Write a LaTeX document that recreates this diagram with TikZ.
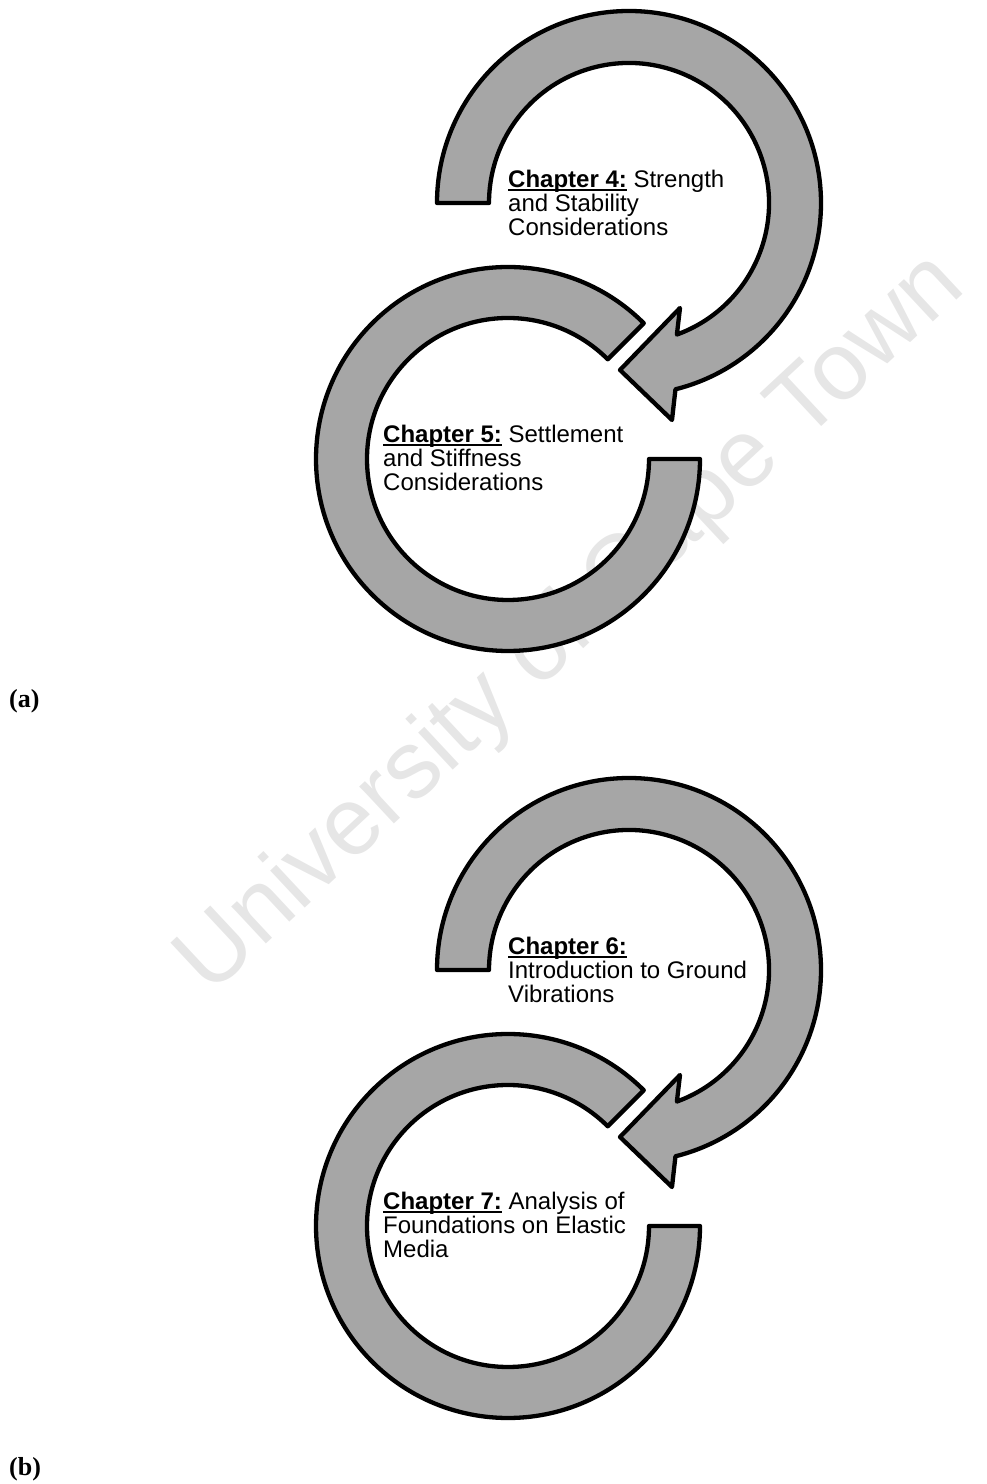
\documentclass[tikz,border=0pt]{standalone}
\usepackage{fontspec}
\setmainfont{Liberation Serif}
\newfontfamily\arialf{Liberation Sans}
\definecolor{ringgray}{HTML}{A6A6A6}
\definecolor{wmgray}{HTML}{E6E6E6}
\newsavebox\chbox
\newcommand{\chul}[1]{\sbox\chbox{\bfseries #1}\rlap{\rule[-2.6pt]{\wd\chbox}{1.9pt}}\usebox\chbox}
\tikzset{
  ring/.style={fill=ringgray, draw=black, line width=4.3pt, line join=round},
  chtext/.style={anchor=base west, inner sep=0pt, font=\arialf\fontsize{24}{24}\selectfont},
  panel/.style={anchor=base west, inner sep=0pt, font=\bfseries\fontsize{26}{28}\selectfont},
  wm/.style={text=wmgray, inner sep=0pt, font=\arialf\fontsize{96}{100}\selectfont}
}
\begin{document}
\begin{tikzpicture}[x=1pt,y=1pt]
\useasboundingbox (0,0) rectangle (986,1484);
% watermark
\node[wm, rotate=43] (wm) at (572,859) {University of Cape Town};
% pair (a) and (b)
\foreach \dy/\ta/\tb/\tc/\td/\te/\tf/\lab/\nm in {0/{\chul{Chapter 4:} Strength}/{and Stability}/{Considerations}/{\chul{Chapter 5:} Settlement}/{and Stiffness}/{Considerations}/(a)/a, -767/{\chul{Chapter 6:}}/{Introduction to Ground}/{Vibrations}/{\chul{Chapter 7:} Analysis of}/{Foundations on Elastic}/{Media}/(b)/b}{
  \begin{scope}[yshift=\dy]
    \coordinate (top\nm) at (629,1281);
    \coordinate (bot\nm) at (508,1025);
    % lower ring (open at upper right)
    \draw[ring] ([shift={(45:192)}]bot\nm) arc[start angle=45, end angle=360, radius=192]
      -- ([shift={(0:141)}]bot\nm) arc[start angle=360, end angle=45, radius=141] -- cycle;
    % upper circular arrow
    \draw[ring] ([shift={(180:192)}]top\nm) arc[start angle=180, end angle=-76, radius=192]
      -- (672,1064) -- (620,1114) -- (680,1176)
      -- ([shift={(-70:140)}]top\nm) arc[start angle=-70, end angle=180, radius=140] -- cycle;
    \node[chtext] (up\nm) at (508,1296) {\vtop{\hbox{\ta}\hbox{\tb}\hbox{\tc}}};
    \node[chtext] (lo\nm) at (383,1041) {\vtop{\hbox{\td}\hbox{\te}\hbox{\tf}}};
    \node[panel] (lab\nm) at (9,776) {\lab};
  \end{scope}
}
\end{tikzpicture}
\end{document}
